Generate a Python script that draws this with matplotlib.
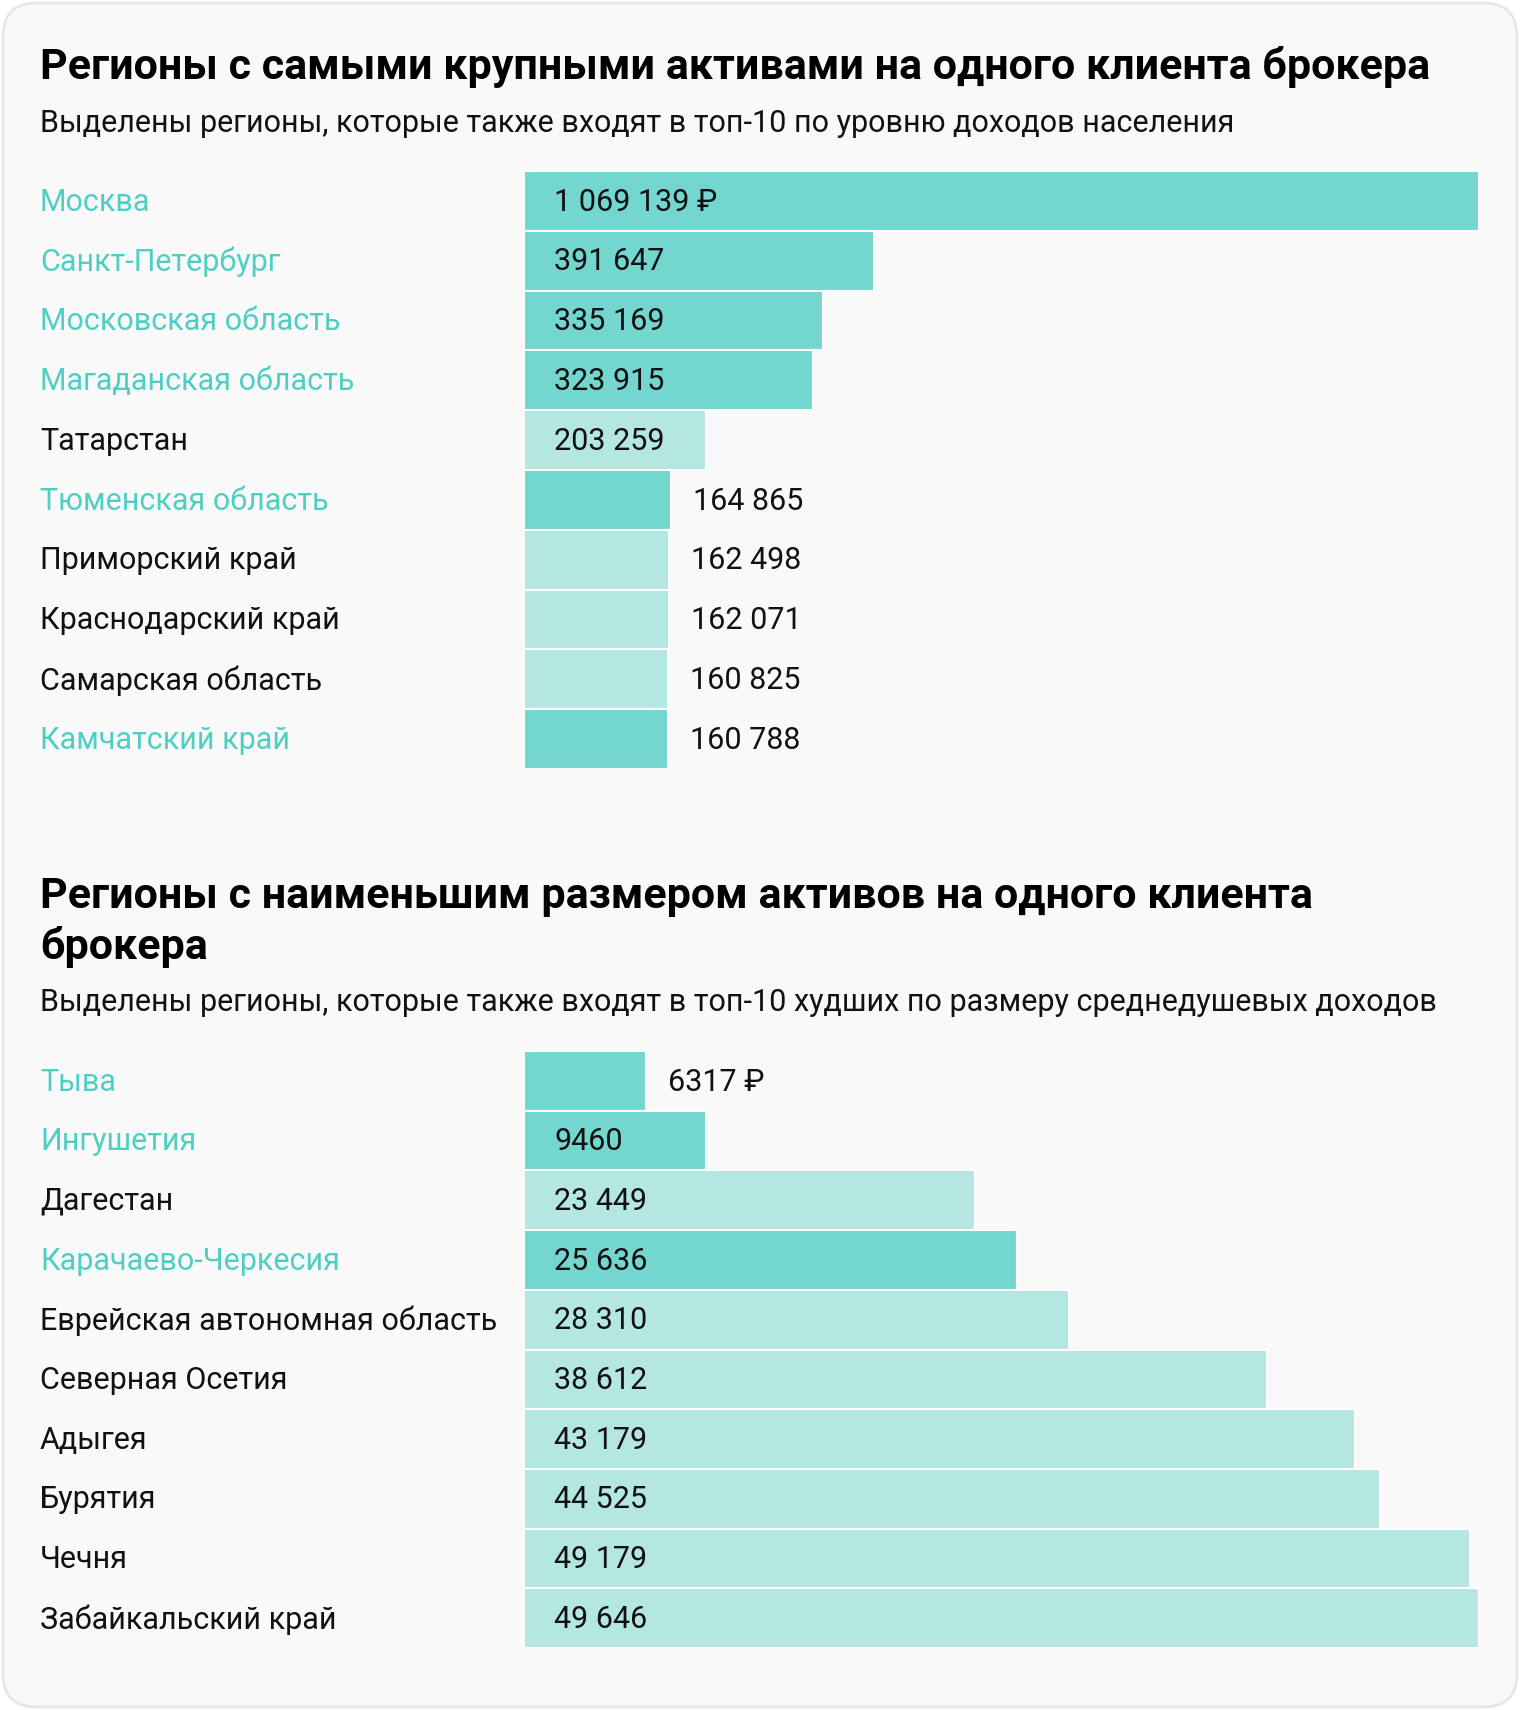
import matplotlib.pyplot as plt
from matplotlib.patches import FancyBboxPatch
from matplotlib.transforms import blended_transform_factory

plt.rcParams['font.family'] = ['Roboto', 'DejaVu Sans']

# data
top_regions = ['Москва', 'Санкт-Петербург', 'Московская область', 'Магаданская область',
               'Татарстан', 'Тюменская область', 'Приморский край', 'Краснодарский край',
               'Самарская область', 'Камчатский край']
top_values = [1069139, 391647, 335169, 323915, 203259, 164865, 162498, 162071, 160825, 160788]
top_hl = [True, True, True, True, False, True, False, False, False, True]

low_regions = ['Тыва', 'Ингушетия', 'Дагестан', 'Карачаево-Черкесия',
               'Еврейская автономная область', 'Северная Осетия', 'Адыгея', 'Бурятия',
               'Чечня', 'Забайкальский край']
low_values = [6317, 9460, 23449, 25636, 28310, 38612, 43179, 44525, 49179, 49646]
low_hl = [True, True, False, True, False, False, False, False, False, False]

title1 = 'Регионы с самыми крупными активами на одного клиента брокера'
sub1 = 'Выделены регионы, которые также входят в топ-10 по уровню доходов населения'
title2 = 'Регионы с наименьшим размером активов на одного клиента\nброкера'
sub2 = 'Выделены регионы, которые также входят в топ-10 худших по размеру среднедушевых доходов'

DARK = '#73d6cf'
LIGHT = '#b4e6e2'
HL_TEXT = '#4fcfc4'
BG = '#f9f9f9'

W, H = 1520, 1710
fig = plt.figure(figsize=(W / 100, H / 100), dpi=100)
fig.patch.set_facecolor('white')

card = FancyBboxPatch((3 / W, 3 / H), 1 - 6 / W, 1 - 6 / H,
                      boxstyle='round,pad=0,rounding_size=0.022',
                      transform=fig.transFigure, facecolor=BG,
                      edgecolor='#e6e6e6', linewidth=2, mutation_aspect=W / H, zorder=-5)
fig.patches.append(card)


def fmt(v):
    # russian style: no separator for 4-digit numbers
    if v < 10000:
        return str(v)
    return f'{v:,}'.replace(',', ' ')


def section(y_top, y_bot, regions, values, hl, unit_first):
    ax = fig.add_axes([524 / W, 1 - y_bot / H, (1479 - 524) / W, (y_bot - y_top) / H])
    ax.set_zorder(2)
    ax.set_facecolor('none')
    n = len(regions)
    ys = list(range(n))
    colors = [DARK if h else LIGHT for h in hl]
    ax.barh(ys, values, height=1.0, color=colors, edgecolor='white', linewidth=1.5)
    ax.set_ylim(n - 0.5, -0.5)
    vmax = max(values)
    ax.set_xlim(0, vmax)
    ax.axis('off')
    tr = blended_transform_factory(fig.transFigure, ax.transData)
    for i, (r, v, h) in enumerate(zip(regions, values, hl)):
        ax.text(40 / W, i + 0.02, r, transform=tr, fontsize=22, va='center', ha='left',
                color=HL_TEXT if h else '#111111')
        lab = fmt(v)
        if i == unit_first:
            lab += ' ₽'
        if v / vmax * (1479 - 524) > 160:
            ax.text(vmax * 30 / (1479 - 524), i + 0.02, lab, fontsize=22, va='center', ha='left', color='#111111')
        else:
            ax.text(v + vmax * 22 / (1479 - 524), i + 0.02, lab, fontsize=22, va='center', ha='left', color='#111111')
    return ax


fig.text(40 / W, 1 - 67 / H, title1, fontsize=31, fontweight='bold', va='center', ha='left', color='black')
fig.text(40 / W, 1 - 123 / H, sub1, fontsize=22, va='center', ha='left', color='#111111')
section(171, 769, top_regions, top_values, top_hl, 0)

fig.text(40 / W, 1 - 922 / H, title2, fontsize=31, fontweight='bold', va='center', ha='left',
         color='black', linespacing=1.3)
fig.text(40 / W, 1 - 1002 / H, sub2, fontsize=22, va='center', ha='left', color='#111111')
section(1051, 1648, low_regions, low_values, low_hl, 0)

fig.savefig('out.png', dpi=100, facecolor='white')
